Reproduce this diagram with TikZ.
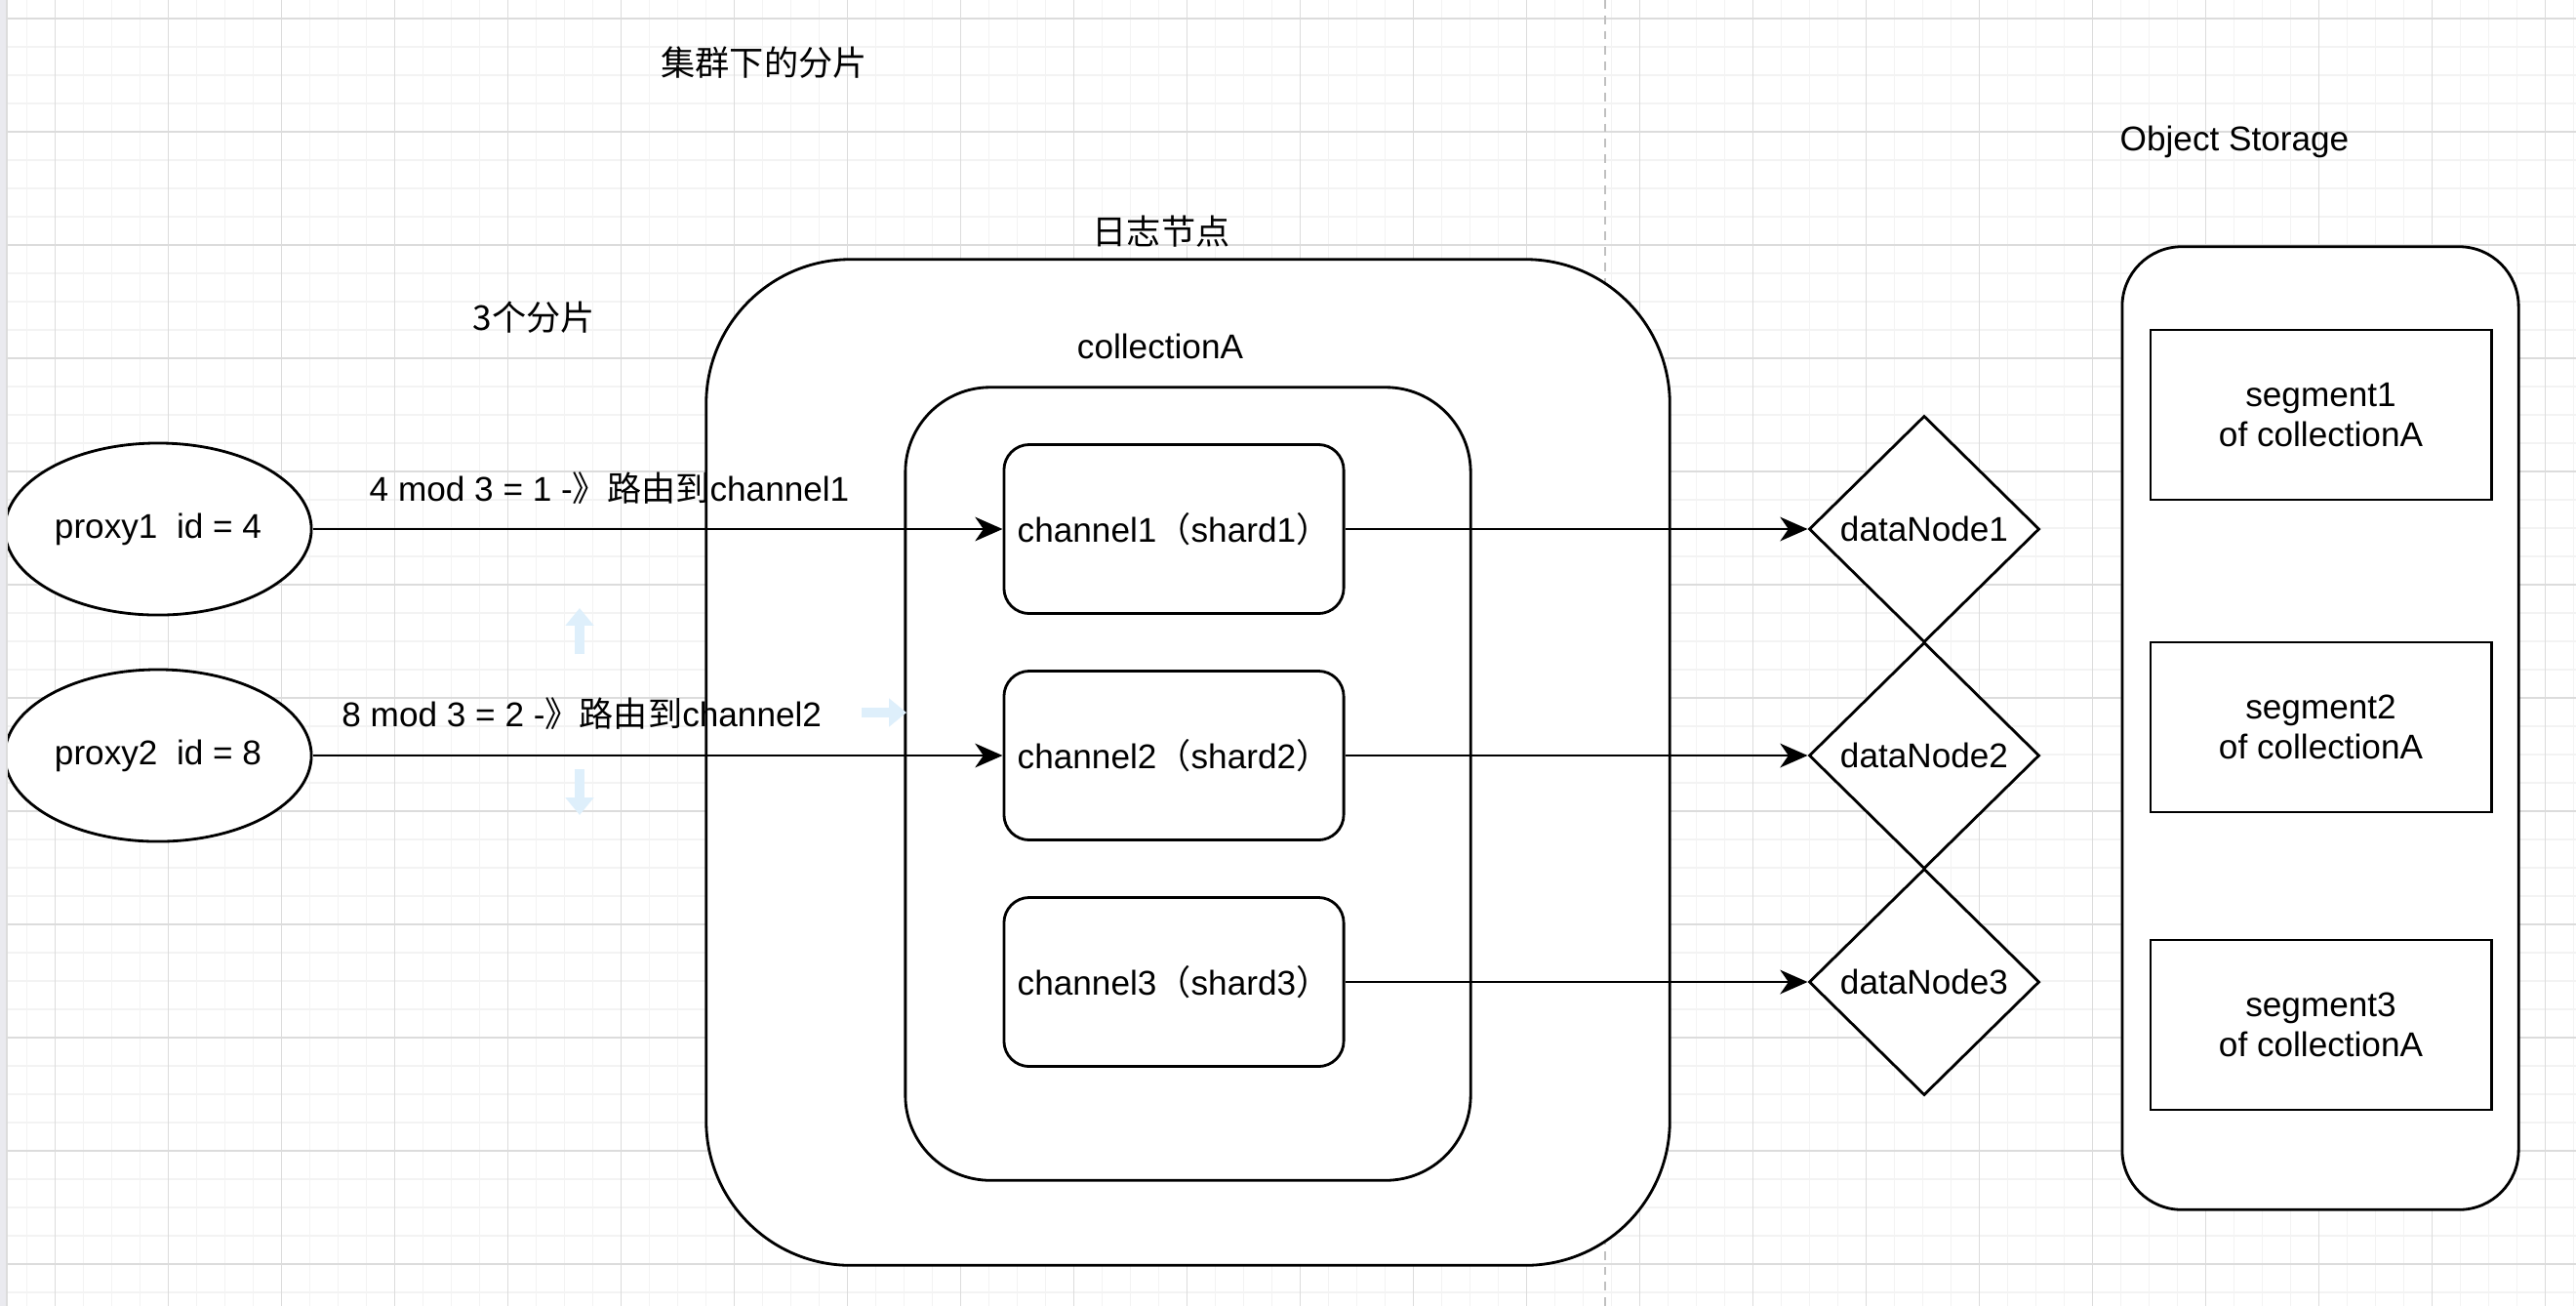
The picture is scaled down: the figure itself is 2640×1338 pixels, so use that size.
\documentclass[tikz,border=0pt]{standalone}
\usepackage{fontspec}
\setmainfont{Liberation Sans}
\newfontfamily\cjk{Noto Sans CJK SC}
\usetikzlibrary{shapes.geometric,arrows.meta}
\definecolor{gridmajor}{RGB}{220,220,220}
\definecolor{gridminor}{RGB}{243,243,243}
\definecolor{dashgray}{RGB}{192,192,192}
\definecolor{hintblue}{RGB}{222,239,251}
\definecolor{rulergray}{RGB}{234,234,239}

\begin{document}
\begin{tikzpicture}[%
          x=0.01cm, y=-0.01cm,
          every node/.style={font=\fontsize{10}{11.5}\selectfont},
          shape line/.style={draw, fill=white, line width=0.8pt, inner sep=0pt},
          proxy/.style={shape line, ellipse, minimum width=3.14cm, minimum height=1.76cm},
          channel/.style={shape line, rounded corners=0.26cm, minimum width=3.48cm, minimum height=1.73cm},
          datanode/.style={shape line, diamond, minimum width=2.36cm, minimum height=2.32cm},
          segment/.style={shape line, align=center, minimum width=3.49cm, minimum height=1.74cm},
          route/.style={line width=0.8pt, -{Stealth[length=8pt,width=7pt,inset=2.4pt]}},
          hint/.style={hintblue, line width=2.8pt, -{Triangle[length=5.1pt,width=8pt]}}]

  \useasboundingbox (0,0) rectangle (2640,1338);
  \fill[white] (0,0) rectangle (2640,1338);

  % background grid
  \foreach \gx in {27.5,56.5,...,2640} \draw[gridminor, line width=0.5pt] (\gx,0) -- (\gx,1338);
  \foreach \gy in {19,48,...,1338} \draw[gridminor, line width=0.5pt] (0,\gy) -- (2640,\gy);
  \foreach \gx in {56.5,172.5,...,2640} \draw[gridmajor, line width=0.5pt] (\gx,0) -- (\gx,1338);
  \foreach \gy in {19,135,...,1338} \draw[gridmajor, line width=0.5pt] (0,\gy) -- (2640,\gy);
  \draw[dashgray, line width=0.6pt, dash pattern=on 2.5pt off 2pt] (1645,0) -- (1645,1338);

  \node (cluster) at (783,64) {\cjk 集群下的分片};
  \node (shards) at (547,325) {\cjk 3个分片};
  \node (logtitle) at (1190,237) {\cjk 日志节点};
  \node (storetitle) at (2290,145) {Object Storage};

  \node[shape line, rounded corners=1.48cm, minimum width=9.87cm, minimum height=10.30cm] (lognode) at (1217.5,781) {};
  \node (colltitle) at (1189,355) {collectionA};
  \node[shape line, rounded corners=0.87cm, minimum width=5.79cm, minimum height=8.12cm] (collA) at (1217.5,803) {};
  \node[shape line, rounded corners=0.61cm, minimum width=4.06cm, minimum height=9.86cm] (objstore) at (2378,746) {};

  \node[proxy] (proxy1) at (162,542) {proxy1\ \ id = 4};
  \node[proxy] (proxy2) at (162,774) {proxy2\ \ id = 8};

  \node[channel] (ch1) at (1203,542) {channel1{\cjk （}shard1{\cjk ）}};
  \node[channel] (ch2) at (1203,774) {channel2{\cjk （}shard2{\cjk ）}};
  \node[channel] (ch3) at (1203,1006) {channel3{\cjk （}shard3{\cjk ）}};

  \node[datanode] (dn1) at (1972,542) {dataNode1};
  \node[datanode] (dn2) at (1972,774) {dataNode2};
  \node[datanode] (dn3) at (1972,1006) {dataNode3};

  \node[segment] (seg1) at (2378.5,425) {segment1\\of collectionA};
  \node[segment] (seg2) at (2378.5,745) {segment2\\of collectionA};
  \node[segment] (seg3) at (2378.5,1050) {segment3\\of collectionA};

  \draw[route] (proxy1) -- node[pos=0.43, yshift=0.42cm] {4 mod 3 = 1 -{\cjk 》路由到}channel1} (ch1);
  \draw[route] (proxy2) -- node[pos=0.39, yshift=0.43cm] {8 mod 3 = 2 -{\cjk 》路由到}channel2} (ch2);
  \draw[route] (ch1) -- (dn1);
  \draw[route] (ch2) -- (dn2);
  \draw[route] (ch3) -- (dn3);

  % hover hints
  \coordinate (upfoot) at (594,670);
  \coordinate (uptip) at (594,623);
  \coordinate (downfoot) at (594,788);
  \coordinate (downtip) at (594,835);
  \coordinate (rightfoot) at (883,730);
  \coordinate (righttip) at (929,730);
  \draw[hint] (upfoot) -- (uptip);
  \draw[hint] (downfoot) -- (downtip);
  \draw[hint] (rightfoot) -- (righttip);

  % canvas edge
  \fill[rulergray] (0,0) rectangle (7,1338);
  \draw[gridmajor, line width=0.5pt] (7,0) -- (7,1338);

\end{tikzpicture}
\end{document}
